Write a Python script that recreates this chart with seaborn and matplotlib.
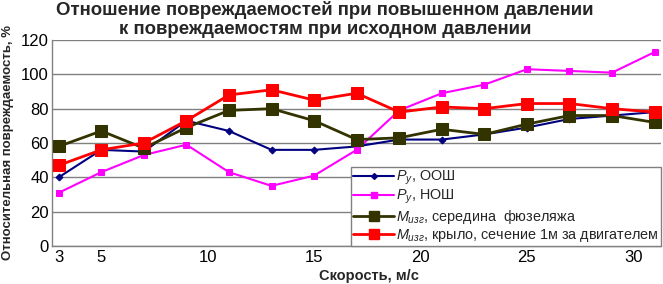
import numpy as np
import pandas as pd
import seaborn as sns
import matplotlib.pyplot as plt
from matplotlib.lines import Line2D

# speed, m/s
speed = [3, 5, 7, 9, 11, 13, 15, 17, 19, 21, 23, 25, 27, 29, 31]

# ratios, %
py_oosh = [40, 56, 55, 73, 67, 56, 56, 58, 62, 62, 65, 69, 74, 76, 78]
py_nosh = [31, 43, 53, 59, 43, 35, 41, 56, 79, 89, 94, 103, 102, 101, 113]
m_fuselage = [58, 67, 57, 69, 79, 80, 73, 62, 63, 68, 65, 71, 76, 76, 72]
m_wing = [47, 56, 60, 73, 88, 91, 85, 89, 78, 81, 80, 83, 83, 80, 78]

labels = [r"$P_{у}$, ООШ", r"$P_{у}$, НОШ",
          r"$M_{изг}$, середина  фюзеляжа",
          r"$M_{изг}$, крыло, сечение 1м за двигателем"]
xticks = [3, 5, 10, 15, 20, 25, 30]

sns.set_style("white")
plt.rcParams['font.family'] = ['Liberation Sans', 'DejaVu Sans']
plt.rcParams['mathtext.fontset'] = 'custom'
plt.rcParams['mathtext.it'] = 'Liberation Sans:italic'
plt.rcParams['mathtext.rm'] = 'Liberation Sans'

fig = plt.figure(figsize=(6.63, 2.84), dpi=100)
ax = fig.add_axes([0.078, 0.134, 0.919, 0.725])

styles = [
    # color, marker, size, lw
    ("#000080", "D", 3.5, 1.5),
    ("#FF00FF", "s", 4.5, 1.5),
    ("#333300", "s", 8, 2.0),
    ("#FF0000", "s", 9, 2.0),
]
series = [py_oosh, py_nosh, m_fuselage, m_wing]

for vals, (c, m, ms, lw) in zip(series, styles):
    sns.lineplot(x=speed, y=vals, ax=ax, color=c, marker=m, markersize=ms,
                 markeredgecolor=c, markerfacecolor=c, linewidth=lw, zorder=3)

ax.set_xlim(2.67, 31.3)
ax.set_ylim(0, 120)
ax.set_yticks(range(0, 121, 20))
ax.set_xticks(xticks)
ax.grid(axis='y', color='#808080', linewidth=1)
ax.grid(axis='x', visible=False)
for s in ['top', 'right']:
    ax.spines[s].set_visible(False)
for s in ['left', 'bottom']:
    ax.spines[s].set_color('#808080')
    ax.spines[s].set_linewidth(1)
ax.tick_params(axis='both', labelsize=12, colors='black', length=0, pad=2)
ax.tick_params(axis='x', length=3, color='#808080', direction='out', pad=0)
for t in ax.get_xticklabels() + ax.get_yticklabels():
    t.set_color('black')

ax.set_xlabel("Скорость, м/с", fontsize=10.5, fontweight='bold', labelpad=0)
ax.xaxis.set_label_coords(0.52, -0.11)
ax.set_ylabel("Относительная повреждаемость, %", fontsize=9.5,
              fontweight='bold')
ax.yaxis.set_label_coords(-0.062, 0.5)

fig.text(0.49, 0.995, "Отношение повреждаемостей при повышенном давлении\n"
         "к повреждаемостям при исходном давлении",
         ha='center', va='top', fontsize=13.4, fontweight='bold',
         linespacing=1.1)

handles = [Line2D([], [], color=c, marker=m, markersize=ms * 0.85,
                  linewidth=lw, markerfacecolor=c, markeredgecolor=c)
           for (c, m, ms, lw) in styles]
leg = ax.legend(handles, labels, loc='lower right', bbox_to_anchor=(1.0, 0.0),
                borderaxespad=0, fontsize=10.4, frameon=True, fancybox=False,
                edgecolor='#808080', framealpha=1, handlelength=2.8,
                handletextpad=0.15, labelspacing=0.08, borderpad=0.15)
leg.get_frame().set_linewidth(1)

plt.savefig("out.png", dpi=100)
